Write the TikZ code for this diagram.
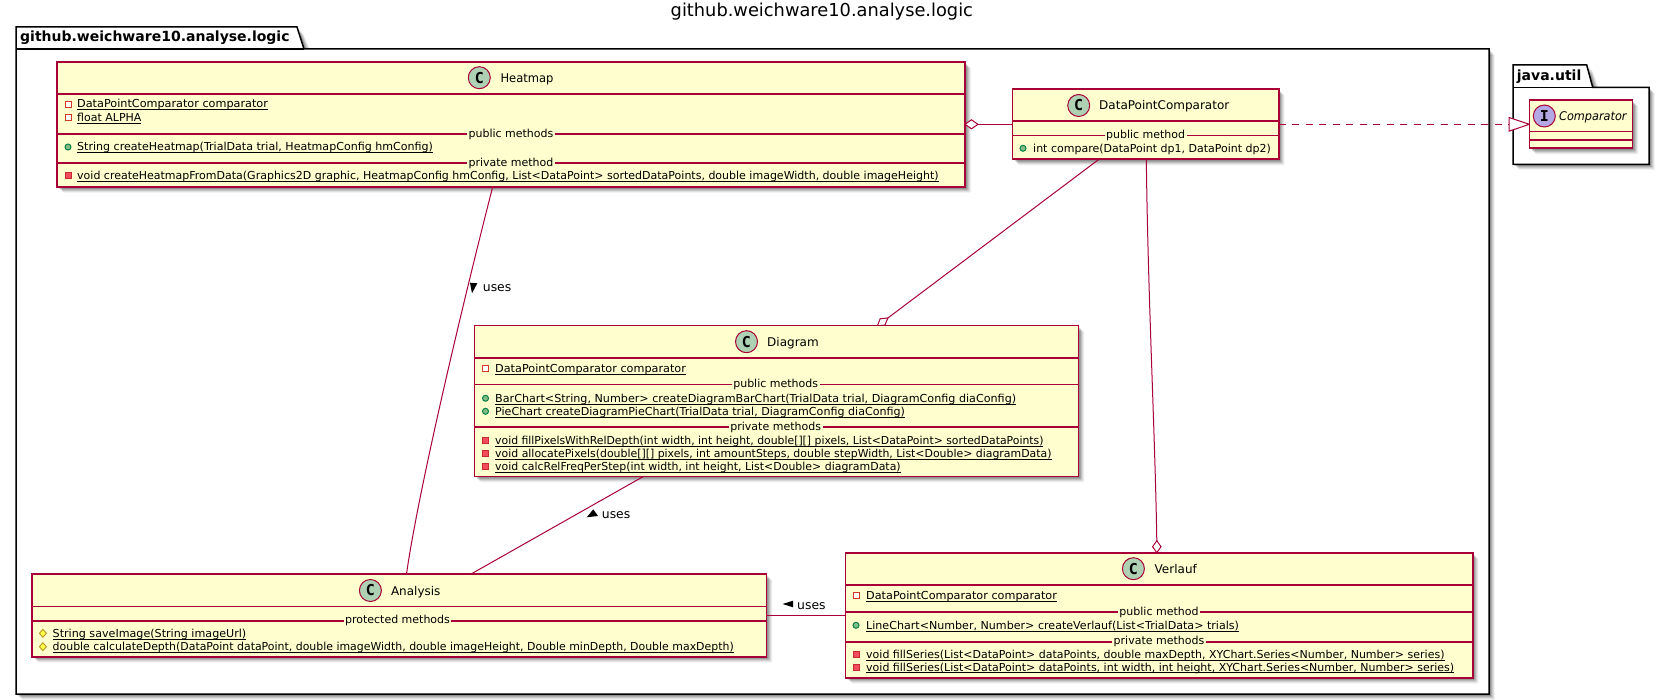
\documentclass[tikz,border=0pt]{standalone}
\usepackage{fontspec}
\usepackage{graphicx}
\setmainfont{DejaVu Sans}
\newfontfamily\circfont{DejaVu Sans Mono}
\usetikzlibrary{calc}
\pgfdeclarelayer{pkg}
\pgfdeclarelayer{shad}
\pgfdeclarelayer{conn}
\pgfsetlayers{pkg,shad,conn,main}
\definecolor{umlline}{HTML}{A80036}
\definecolor{umlfill}{HTML}{FEFECE}
\definecolor{umlcirc}{HTML}{ADD1B2}
\definecolor{umlintf}{HTML}{B4A7E5}
\definecolor{privred}{HTML}{C82930}
\definecolor{privfill}{HTML}{F24D5C}
\definecolor{pubgreen}{HTML}{038048}
\definecolor{pubfill}{HTML}{84BE84}
\definecolor{protyel}{HTML}{B38D22}
\definecolor{protfill}{HTML}{FFFF44}
\newsavebox\ulbox
\newcommand{\ul}[1]{\sbox\ulbox{#1}\usebox\ulbox\llap{\rule[-2pt]{\wd\ulbox}{0.6pt}}}
\newcommand{\ulx}[2]{\scalebox{#1}[1]{\ul{#2}}}
\newcommand{\shadowrect}[4]{% x1 y1 x2 y2
  \begin{pgfonlayer}{shad}
  \foreach \s/\o in {6/.05,5/.08,4/.1,3/.13,2/.16}{
    \fill[black,opacity=\o,rounded corners=1pt] (#1+\s,#2+\s) rectangle (#3+\s,#4+\s);}
  \end{pgfonlayer}}
\tikzset{
  x=1pt,y=-1pt,
  classbox/.style={draw=umlline,fill=umlfill,line width=1.6pt,anchor=north west,inner sep=0pt,outer sep=0pt},
  sepline/.style={draw=umlline,line width=1.6pt},
  conn/.style={draw=umlline,line width=1pt},
  member/.style={anchor=base west,inner sep=0pt,font=\fontsize{11}{13}\selectfont,text=black},
  seplabel/.style={anchor=center,inner sep=1.5pt,fill=umlfill,font=\fontsize{11}{13}\selectfont},
  cname/.style={anchor=base west,inner sep=0pt,font=\fontsize{12}{14}\selectfont},
  circ/.style={circle,draw=umlline,line width=1pt,minimum size=22pt,inner sep=0pt,fill=umlcirc,font=\fontsize{15}{15}\circfont\bfseries},
  pkgshape/.style={draw=black,line width=1.5pt,fill=white},
  pkgname/.style={anchor=base west,inner sep=0pt,font=\fontsize{14}{16}\selectfont\bfseries},
  rellabel/.style={anchor=base west,inner sep=0pt,font=\fontsize{12.4}{15}\selectfont},
  arrowmark/.style={fill=black,draw=none},
  priv/.style={draw=privred!80!orange,fill=white,line width=.9pt},
  privm/.style={draw=privred,fill=privfill,line width=1pt},
  pubm/.style={draw=pubgreen,fill=pubfill,line width=1pt},
  protm/.style={draw=protyel,fill=protfill,line width=.8pt},
}
% icons: x, centre y
\newcommand{\iprivo}[2]{\draw[priv] (#1-3,#2-3) rectangle (#1+3,#2+3);}
\newcommand{\ipriv}[2]{\draw[privm] (#1-3,#2-3) rectangle (#1+3,#2+3);}
\newcommand{\ipub}[2]{\draw[pubm] (#1,#2) circle[radius=3];}
\newcommand{\iprot}[2]{\draw[protm] (#1-3.5,#2) -- (#1,#2-4) -- (#1+3.5,#2) -- (#1,#2+4) -- cycle;}
\begin{document}
\begin{tikzpicture}
\useasboundingbox (0,0) rectangle (1666,700);
\begin{pgfonlayer}{pkg}
\fill[white] (0,0) rectangle (1666,700);
% packages
\foreach \s/\o in {6/.05,5/.08,4/.1,3/.13,2/.16}{
  \fill[black,opacity=\o] (16+\s,49+\s) rectangle (1489+\s,694+\s);
  \fill[black,opacity=\o] (1513+\s,87.3+\s) rectangle (1649+\s,164.3+\s);
  \fill[black,opacity=\o] (297+\s,27+\s) -- (304+\s,49) -- (297,49) -- cycle;
  \fill[black,opacity=\o] (1586.7+\s,65+\s) -- (1592.7+\s,87.3) -- (1586.7,87.3) -- cycle;}
\draw[pkgshape] (16,49) -- (16,27) -- (297,27) -- (304,49) -- (1489,49) -- (1489,694) -- (16,694) -- cycle;
\draw[black,line width=1.5pt] (16,49) -- (304,49);
\draw[pkgshape] (1513,87.3) -- (1513,65) -- (1586.7,65) -- (1592.7,87.3) -- (1649,87.3) -- (1649,164.3) -- (1513,164.3) -- cycle;
\draw[black,line width=1.5pt] (1513,87.3) -- (1592.7,87.3);
\end{pgfonlayer}
\node[anchor=base west,inner sep=0pt,font=\fontsize{17.8}{20}\selectfont] (title) at (670.5,16.7) {github.weichware10.analyse.logic};
\node[pkgname] (pkgmain) at (20,42) {github.weichware10.analyse.logic};
\node[pkgname] (pkgutil) at (1516.7,80.7) {java.util};

% Heatmap
\shadowrect{57}{62}{965}{187}
\node[classbox,minimum width=908pt,minimum height=125pt] (heatmap) at (57,62) {};
\draw[sepline] (57,94) -- (965,94) (57,134) -- (965,134) (57,163.3) -- (965,163.3);
\node[circ] (hmc) at (479.3,77.7) {C};
\node[cname] (hmn) at (500.3,82.3) {\scalebox{.96}[1]{Heatmap}};
\iprivo{68}{104}\node[member] (hm1) at (77,108) {\ulx{1.021}{DataPointComparator comparator}};
\iprivo{68}{117.3}\node[member] (hm2) at (77,121.3) {\ul{float ALPHA}};
\node[seplabel] (hm3) at (511,134) {public methods};
\ipub{68}{147}\node[member] (hm4) at (77,151) {\ulx{1.006}{String createHeatmap(TrialData trial, HeatmapConfig hmConfig)}};
\node[seplabel] (hm5) at (511,163.3) {private method};
\ipriv{68}{176}\node[member] (hm6) at (77,180) {\ul{void createHeatmapFromData(Graphics2D graphic, HeatmapConfig hmConfig, List<DataPoint> sortedDataPoints, double imageWidth, double imageHeight)}};

% DataPointComparator
\shadowrect{1012.6}{89}{1278.7}{159.3}
\node[classbox,minimum width=266.1pt,minimum height=70.3pt] (dpc) at (1012.6,89) {};
\draw[sepline] (1012.6,121) -- (1278.7,121) (1012.6,135.7) -- (1278.7,135.7);
\node[circ] (dpcc) at (1078.7,105.5) {C};
\node[cname] (dpcn) at (1099,110) {DataPointComparator};
\node[seplabel] (dpc1) at (1145.6,135.7) {public method};
\ipub{1023}{148.3}\node[member] (dpc2) at (1033,152.3) {int compare(DataPoint dp1, DataPoint dp2)};

% Diagram
\shadowrect{474.4}{325.7}{1078.3}{476.5}
\node[classbox,minimum width=603.9pt,minimum height=150.8pt] (diagram) at (474.4,325.7) {};
\draw[sepline] (474.4,358) -- (1078.3,358) (474.4,384.7) -- (1078.3,384.7) (474.4,427.3) -- (1078.3,427.3);
\node[circ] (diac) at (746.5,341.7) {C};
\node[cname] (dian) at (767,346.2) {Diagram};
\iprivo{485.5}{368.3}\node[member] (dia1) at (495,372.3) {\ulx{1.021}{DataPointComparator comparator}};
\node[seplabel] (dia2) at (775.7,384.7) {public methods};
\ipub{485.5}{398.3}\node[member] (dia3) at (495,402.3) {\ulx{1.014}{BarChart<String, Number> createDiagramBarChart(TrialData trial, DiagramConfig diaConfig)}};
\ipub{485.5}{411.3}\node[member] (dia4) at (495,415.3) {\ulx{1.009}{PieChart createDiagramPieChart(TrialData trial, DiagramConfig diaConfig)}};
\node[seplabel] (dia5) at (775.7,427.3) {private methods};
\ipriv{485.5}{440.3}\node[member] (dia6) at (495,444.3) {\ulx{.986}{void fillPixelsWithRelDepth(int width, int height, double[][] pixels, List<DataPoint> sortedDataPoints)}};
\ipriv{485.5}{453.3}\node[member] (dia7) at (495,457.3) {\ulx{.992}{void allocatePixels(double[][] pixels, int amountSteps, double stepWidth, List<Double> diagramData)}};
\ipriv{485.5}{466.3}\node[member] (dia8) at (495,470.3) {\ulx{.995}{void calcRelFreqPerStep(int width, int height, List<Double> diagramData)}};

% Analysis
\shadowrect{32}{574}{766.3}{656.7}
\node[classbox,minimum width=734.3pt,minimum height=82.7pt] (analysis) at (32,574) {};
\draw[sepline] (32,606.3) -- (766.3,606.3) (32,620.7) -- (766.3,620.7);
\node[circ] (anc) at (370.4,590.5) {C};
\node[cname] (ann) at (390.8,595) {Analysis};
\node[seplabel] (an1) at (397.5,620.7) {protected methods};
\iprot{42.9}{633.3}\node[member] (an2) at (52.5,637.3) {\ulx{1.012}{String saveImage(String imageUrl)}};
\iprot{42.9}{646.7}\node[member] (an3) at (52.5,650.7) {\ulx{.9935}{double calculateDepth(DataPoint dataPoint, double imageWidth, double imageHeight, Double minDepth, Double maxDepth)}};

% Verlauf
\shadowrect{845.5}{552.7}{1472.7}{677.7}
\node[classbox,minimum width=627.2pt,minimum height=125pt] (verlauf) at (845.5,552.7) {};
\draw[sepline] (845.5,585) -- (1472.7,585) (845.5,612) -- (1472.7,612) (845.5,641.7) -- (1472.7,641.7);
\node[circ] (vec) at (1133.4,568.7) {C};
\node[cname] (ven) at (1154.5,573.2) {Verlauf};
\iprivo{856}{595.3}\node[member] (ve1) at (866,599.3) {\ulx{1.021}{DataPointComparator comparator}};
\node[seplabel] (ve2) at (1159,612) {public method};
\ipub{856}{625.3}\node[member] (ve3) at (866,629.3) {\ulx{1.008}{LineChart<Number, Number> createVerlauf(List<TrialData> trials)}};
\node[seplabel] (ve4) at (1159,641.7) {private methods};
\ipriv{856}{654.3}\node[member] (ve5) at (866,658.3) {\ul{void fillSeries(List<DataPoint> dataPoints, double maxDepth, XYChart.Series<Number, Number> series)}};
\ipriv{856}{667}\node[member] (ve6) at (866,671) {\ul{void fillSeries(List<DataPoint> dataPoints, int width, int height, XYChart.Series<Number, Number> series)}};

% Comparator
\shadowrect{1529.3}{100}{1632.3}{148.3}
\node[classbox,minimum width=103pt,minimum height=48.3pt] (comparator) at (1529.3,100) {};
\draw[sepline] (1529.3,131.7) -- (1632.3,131.7) (1529.3,140) -- (1632.3,140);
\node[circ,fill=umlintf] (coc) at (1544.3,116) {I};
\node[cname,font=\fontsize{12}{14}\selectfont\itshape] (con) at (1559,120.7) {\scalebox{.94}[1]{Comparator}};

% connectors (behind the boxes)
\begin{pgfonlayer}{conn}
\coordinate (p1) at (0,124.3);
\draw[conn] (heatmap.east |- p1) -- (dpc.west |- p1);
\draw[conn,fill=white] (heatmap.east |- p1) -- ++(6.5,-4.5) -- ++(6.5,4.5) -- ++(-6.5,4.5) -- cycle;
\draw[conn,dash pattern=on 7pt off 6.5pt] (dpc.east |- p1) -- (comparator.west |- p1);
\draw[conn,fill=white] (1509,117.5) -- (comparator.west |- p1) -- (1509,131.2) -- cycle;
\coordinate (dpcb1) at ($(dpc.south west)!0.3245!(dpc.south east)$);
\coordinate (diat) at ($(diagram.north west)!0.6677!(diagram.north east)$);
\draw[conn] (dpcb1) -- (diat);
\draw[conn,fill=white] (887.8,318) -- (885,325.1) -- (877.4,325.8) -- (880.2,318.7) -- cycle;
\coordinate (dpcb2) at ($(dpc.south west)!0.5025!(dpc.south east)$);
\coordinate (vert) at ($(verlauf.north west)!0.4963!(verlauf.north east)$);
\draw[conn] (dpcb2) .. controls (1148,300) and (1155,430) .. (1156.8,541) -- (vert);
\draw[conn,fill=white] (vert) -- ++(-4.2,-6) -- ++(4.2,-6) -- ++(4.2,6) -- cycle;
\coordinate (hmb) at ($(heatmap.south west)!0.4798!(heatmap.south east)$);
\coordinate (ant1) at ($(analysis.north west)!0.51!(analysis.north east)$);
\draw[conn] (hmb) .. controls (470,275) and (420,480) .. (ant1);
\coordinate (diab) at ($(diagram.south west)!0.2797!(diagram.south east)$);
\coordinate (ant2) at ($(analysis.north west)!0.598!(analysis.north east)$);
\draw[conn] (diab) -- (ant2);
\coordinate (p2) at (0,615.7);
\draw[conn] (analysis.east |- p2) -- (verlauf.west |- p2);
\end{pgfonlayer}

% labels
\fill[arrowmark] (470,282.7) -- (477.3,283.3) -- (472,293.3) -- cycle;
\node[rellabel] (uses1) at (482.7,291.7) {uses};
\fill[arrowmark] (586.7,517.3) -- (593.3,509.3) -- (598,516) -- cycle;
\node[rellabel] (uses2) at (601.7,518.7) {uses};
\fill[arrowmark] (793,600.7) -- (793,607.3) -- (782.6,604) -- cycle;
\node[rellabel] (uses3) at (797,609) {uses};
\end{tikzpicture}
\end{document}
